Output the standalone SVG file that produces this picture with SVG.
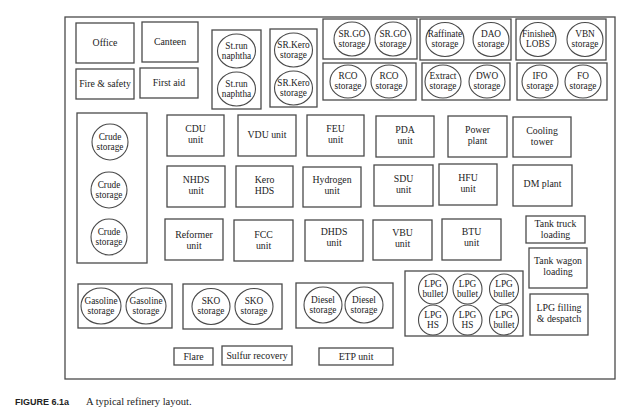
<svg xmlns="http://www.w3.org/2000/svg" width="624" height="420" viewBox="0 0 624 420">
<style>
rect{fill:none;stroke:#4a4a4a;stroke-width:1.3}
ellipse{fill:none;stroke:#4a4a4a;stroke-width:1.1}
text{font-family:"Liberation Serif","DejaVu Serif",serif;font-size:9.8px;fill:#222;text-anchor:middle}
.c{font-size:9.3px}
.cap{text-anchor:start;font-size:10.5px}
.fig{font-family:"Liberation Sans","DejaVu Sans",sans-serif;font-weight:bold;font-size:9px;text-anchor:start}
</style>
<rect width="624" height="420" style="fill:#fff;stroke:none"/>
<rect id="border" x="65" y="17" width="550" height="362"/>
<g id="office"><rect x="76" y="23" width="58" height="40"/><text x="105" y="46">Office</text></g>
<g id="canteen"><rect x="142" y="22" width="56" height="40"/><text x="170" y="45">Canteen</text></g>
<g id="fire"><rect x="76" y="69" width="58" height="30"/><text x="105" y="87">Fire &amp; safety</text></g>
<g id="firstaid"><rect x="140" y="68" width="58" height="30"/><text x="169" y="86">First aid</text></g>
<g id="strun"><rect x="212" y="30" width="49" height="79"/>
<ellipse cx="236.5" cy="51" rx="19" ry="17"/><text class="c" x="236.5" y="49">St.run</text><text class="c" x="236.5" y="59">naphtha</text>
<ellipse cx="236.5" cy="89" rx="19" ry="17"/><text class="c" x="236.5" y="87">St.run</text><text class="c" x="236.5" y="97">naphtha</text></g>
<g id="srkero"><rect x="270" y="29" width="47" height="78"/>
<ellipse cx="293.5" cy="50" rx="19" ry="17"/><text class="c" x="293.5" y="48">SR.Kero</text><text class="c" x="293.5" y="58">storage</text>
<ellipse cx="293.5" cy="88" rx="19" ry="17"/><text class="c" x="293.5" y="86">SR.Kero</text><text class="c" x="293.5" y="96">storage</text></g>
<g id="srgo"><rect x="323" y="19" width="94" height="40"/>
<ellipse cx="352" cy="39" rx="18" ry="17"/><text class="c" x="352" y="37">SR.GO</text><text class="c" x="352" y="47">storage</text>
<ellipse cx="393" cy="39" rx="18" ry="17"/><text class="c" x="393" y="37">SR.GO</text><text class="c" x="393" y="47">storage</text></g>
<g id="rco"><rect x="323" y="63" width="93" height="37"/>
<ellipse cx="348" cy="81.5" rx="18" ry="16.5"/><text class="c" x="348" y="79">RCO</text><text class="c" x="348" y="89">storage</text>
<ellipse cx="389" cy="81.5" rx="18" ry="16.5"/><text class="c" x="389" y="79">RCO</text><text class="c" x="389" y="89">storage</text></g>
<g id="raff"><rect x="420" y="19" width="91" height="41"/>
<ellipse cx="445" cy="39.5" rx="19" ry="17"/><text class="c" x="445" y="37">Raffinate</text><text class="c" x="445" y="47">storage</text>
<ellipse cx="491" cy="39.5" rx="18" ry="17"/><text class="c" x="491" y="37">DAO</text><text class="c" x="491" y="47">storage</text></g>
<g id="extract"><rect x="422" y="63" width="88" height="37"/>
<ellipse cx="443" cy="81.5" rx="18" ry="16.5"/><text class="c" x="443" y="79">Extract</text><text class="c" x="443" y="89">storage</text>
<ellipse cx="487" cy="81.5" rx="18" ry="16.5"/><text class="c" x="487" y="79">DWO</text><text class="c" x="487" y="89">storage</text></g>
<g id="finished"><rect x="516" y="19" width="90" height="41"/>
<ellipse cx="538" cy="39.5" rx="18" ry="17"/><text class="c" x="538" y="37">Finished</text><text class="c" x="538" y="47">LOBS</text>
<ellipse cx="585" cy="39.5" rx="18" ry="17"/><text class="c" x="585" y="37">VBN</text><text class="c" x="585" y="47">storage</text></g>
<g id="ifo"><rect x="517" y="63" width="90" height="37"/>
<ellipse cx="540" cy="81.5" rx="18" ry="16.5"/><text class="c" x="540" y="79">IFO</text><text class="c" x="540" y="89">storage</text>
<ellipse cx="583" cy="81.5" rx="18" ry="16.5"/><text class="c" x="583" y="79">FO</text><text class="c" x="583" y="89">storage</text></g>
<g id="crude"><rect x="77" y="113" width="70" height="150"/>
<ellipse cx="110" cy="142" rx="18" ry="18"/><text class="c" x="110" y="140">Crude</text><text class="c" x="110" y="150">storage</text>
<ellipse cx="109" cy="190" rx="18" ry="18"/><text class="c" x="109" y="188">Crude</text><text class="c" x="109" y="198">storage</text>
<ellipse cx="109" cy="237" rx="18" ry="18"/><text class="c" x="109" y="235">Crude</text><text class="c" x="109" y="245">storage</text></g>
<g id="cdu"><rect x="167" y="115" width="57" height="41"/><text x="195.5" y="132">CDU</text><text x="195.5" y="143">unit</text></g>
<g id="vdu"><rect x="238" y="115" width="58" height="41"/><text x="267" y="138">VDU unit</text></g>
<g id="feu"><rect x="307" y="115" width="57" height="41"/><text x="335.5" y="132">FEU</text><text x="335.5" y="143">unit</text></g>
<g id="pda"><rect x="376" y="116" width="58" height="41"/><text x="405" y="133">PDA</text><text x="405" y="144">unit</text></g>
<g id="power"><rect x="448" y="116" width="59" height="41"/><text x="477.5" y="133">Power</text><text x="477.5" y="144">plant</text></g>
<g id="cooling"><rect x="513" y="117" width="58" height="40"/><text x="542" y="134">Cooling</text><text x="542" y="145">tower</text></g>
<g id="nhds"><rect x="167" y="166" width="58" height="41"/><text x="196" y="183">NHDS</text><text x="196" y="194">unit</text></g>
<g id="kerohds"><rect x="236" y="166" width="57" height="41"/><text x="264.5" y="183">Kero</text><text x="264.5" y="194">HDS</text></g>
<g id="hydrogen"><rect x="303" y="167" width="58" height="40"/><text x="332" y="183">Hydrogen</text><text x="332" y="194">unit</text></g>
<g id="sdu"><rect x="374" y="165" width="59" height="41"/><text x="403.5" y="182">SDU</text><text x="403.5" y="193">unit</text></g>
<g id="hfu"><rect x="439" y="164" width="58" height="41"/><text x="468" y="181">HFU</text><text x="468" y="192">unit</text></g>
<g id="dm"><rect x="513" y="165" width="59" height="41"/><text x="542.5" y="187">DM plant</text></g>
<g id="reformer"><rect x="165" y="219" width="58" height="41"/><text x="194" y="238">Reformer</text><text x="194" y="249">unit</text></g>
<g id="fcc"><rect x="234" y="220" width="59" height="41"/><text x="263.5" y="238">FCC</text><text x="263.5" y="249">unit</text></g>
<g id="dhds"><rect x="305" y="220" width="58" height="41"/><text x="334" y="235">DHDS</text><text x="334" y="246">unit</text></g>
<g id="vbu"><rect x="373" y="220" width="59" height="40"/><text x="402.5" y="236">VBU</text><text x="402.5" y="247">unit</text></g>
<g id="btu"><rect x="442" y="219" width="59" height="41"/><text x="471.5" y="235">BTU</text><text x="471.5" y="246">unit</text></g>
<g id="truck"><rect x="526" y="216" width="59" height="27"/><text x="555.5" y="227">Tank truck</text><text x="555.5" y="238">loading</text></g>
<g id="wagon"><rect x="529" y="248" width="58" height="40"/><text x="558" y="264">Tank wagon</text><text x="558" y="275">loading</text></g>
<g id="lpg"><rect x="405" y="271" width="118" height="65"/>
<ellipse cx="433" cy="289" rx="14.5" ry="15"/><text class="c" x="433" y="287">LPG</text><text class="c" x="433" y="297">bullet</text>
<ellipse cx="467.5" cy="289" rx="14.5" ry="15"/><text class="c" x="467.5" y="287">LPG</text><text class="c" x="467.5" y="297">bullet</text>
<ellipse cx="504" cy="289" rx="14.5" ry="15"/><text class="c" x="504" y="287">LPG</text><text class="c" x="504" y="297">bullet</text>
<ellipse cx="433" cy="320" rx="14.5" ry="15"/><text class="c" x="433" y="318">LPG</text><text class="c" x="433" y="328">HS</text>
<ellipse cx="467.5" cy="320" rx="14.5" ry="15"/><text class="c" x="467.5" y="318">LPG</text><text class="c" x="467.5" y="328">HS</text>
<ellipse cx="504" cy="320" rx="14.5" ry="15"/><text class="c" x="504" y="318">LPG</text><text class="c" x="504" y="328">bullet</text></g>
<g id="lpgfill"><rect x="530" y="294" width="58" height="41"/><text x="559" y="311">LPG filling</text><text x="559" y="322">&amp; despatch</text></g>
<g id="gasoline"><rect x="78" y="284" width="94" height="44"/>
<ellipse cx="101" cy="306" rx="20" ry="18"/><text class="c" x="101" y="304">Gasoline</text><text class="c" x="101" y="314">storage</text>
<ellipse cx="146" cy="306" rx="20" ry="18"/><text class="c" x="146" y="304">Gasoline</text><text class="c" x="146" y="314">storage</text></g>
<g id="sko"><rect x="183" y="284" width="99" height="45"/>
<ellipse cx="211" cy="306.5" rx="19" ry="18"/><text class="c" x="211" y="304">SKO</text><text class="c" x="211" y="314">storage</text>
<ellipse cx="254" cy="306.5" rx="19" ry="18"/><text class="c" x="254" y="304">SKO</text><text class="c" x="254" y="314">storage</text></g>
<g id="diesel"><rect x="296" y="283" width="97" height="45"/>
<ellipse cx="323" cy="305" rx="19" ry="18"/><text class="c" x="323" y="303">Diesel</text><text class="c" x="323" y="313">storage</text>
<ellipse cx="364" cy="305" rx="19" ry="18"/><text class="c" x="364" y="303">Diesel</text><text class="c" x="364" y="313">storage</text></g>
<g id="flare"><rect x="174" y="348" width="39" height="17"/><text x="193.5" y="360">Flare</text></g>
<g id="sulfur"><rect x="222" y="346" width="70" height="19"/><text x="257" y="359">Sulfur recovery</text></g>
<g id="etp"><rect x="319" y="348" width="74" height="17"/><text x="356" y="360">ETP unit</text></g>
<g id="connectors"></g>
<text class="fig" x="15" y="405">FIGURE 6.1a</text>
<text class="cap" x="86" y="405">A typical refinery layout.</text>
</svg>
